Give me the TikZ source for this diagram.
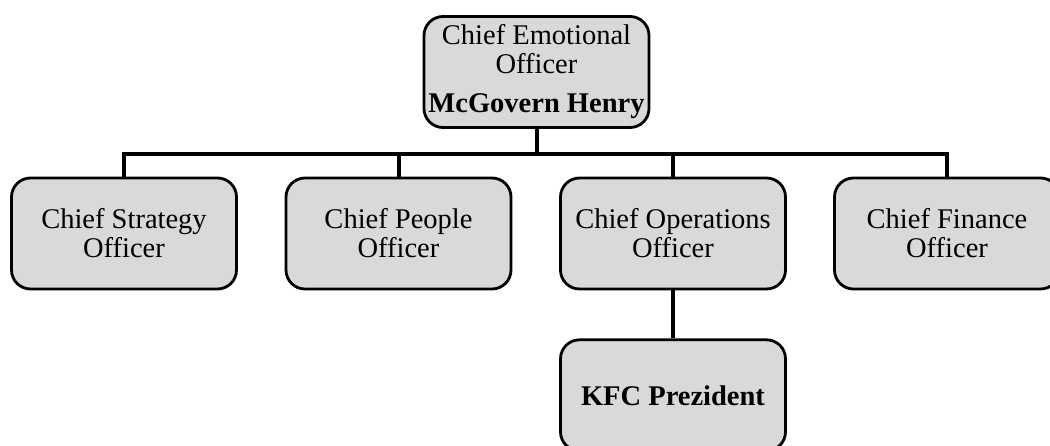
\documentclass[tikz,border=0pt]{standalone}
\usepackage{fontspec}
\setmainfont{Liberation Serif}
\usetikzlibrary{positioning}

\begin{document}
\begin{tikzpicture}[
  x=1pt, y=-1pt,
  font=\fontsize{28.5}{29}\selectfont,
  role/.style={draw,line width=2.8pt,rounded corners=19pt,fill=black!15,align=center,
               minimum width=225pt,minimum height=111pt,inner sep=2pt},
  link/.style={line width=4pt}
]
\useasboundingbox (0,0) rectangle (1050,445);
\clip (0,0) rectangle (1050,445);
\node[role] (ceo) at (536.5,72) {Chief Emotional\\Officer\\[10pt]\textbf{McGovern Henry}};
\node[role] (cso) at (124,233.5) {Chief Strategy\\Officer};
\node[role] (cpo) at (398.5,233.5) {Chief People\\Officer};
\node[role] (coo) at (673,233.5) {Chief Operations\\Officer};
\node[role] (cfo) at (947,233.5) {Chief Finance\\Officer};
\node[role,below=48pt of coo] (kfc) {\textbf{KFC Prezident}};
\coordinate (bar) at (0,153.5);
% tree lines
\draw[link] (ceo.south) -- (ceo.south |- bar);
\draw[link] (cso.north) -- (cso.north |- bar) -| (cfo.north);
\draw[link] (cpo.north) -- (cpo.north |- bar);
\draw[link] (coo.north) -- (coo.north |- bar);
\draw[link] (coo.south) -- (kfc.north);
\end{tikzpicture}
\end{document}
